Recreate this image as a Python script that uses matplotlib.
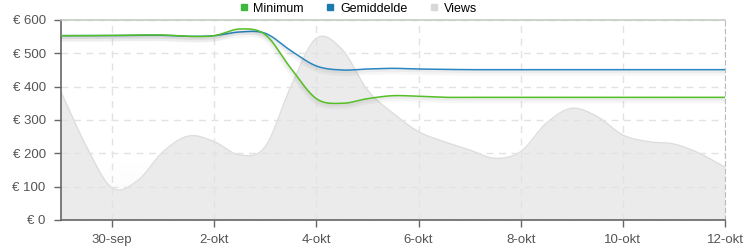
import numpy as np
import matplotlib
matplotlib.use("Agg")
import matplotlib.pyplot as plt
from matplotlib import patheffects as pe
from matplotlib.lines import Line2D

# ---- data (x = days since 29-sep, half-day steps) ----
days = [0, 0.5, 1, 1.5, 2, 2.5, 3, 3.5, 4, 4.5, 5, 5.5, 6, 6.5,
        7, 7.5, 8, 8.5, 9, 9.5, 10, 10.5, 11, 11.5, 12, 12.5, 13]
minimum = [553, 553, 554, 555, 555, 551, 553, 573, 556, 455, 364, 350, 364, 373,
           371, 368, 368, 368, 368, 368, 368, 368, 368, 368, 368, 368, 368]
gemiddelde = [553, 553, 553, 554, 554, 551, 553, 564, 560, 508, 462, 450, 453, 455,
              453, 452, 451, 451, 451, 451, 451, 451, 451, 451, 451, 451, 451]
views = [384, 220, 96, 118, 205, 252, 235, 195, 220, 400, 545, 512, 390, 320,
         265, 235, 210, 185, 205, 290, 335, 310, 255, 235, 228, 200, 158]
tick_pos = [1, 3, 5, 7, 9, 11, 13]
tick_labels = ["30-sep", "2-okt", "4-okt", "6-okt", "8-okt", "10-okt", "12-okt"]
ytick_vals = [0, 100, 200, 300, 400, 500, 600]


def catmull_rom(x, y, n=24):
    x = np.asarray(x, float); y = np.asarray(y, float)
    px = np.concatenate([[2 * x[0] - x[1]], x, [2 * x[-1] - x[-2]]])
    py = np.concatenate([[2 * y[0] - y[1]], y, [2 * y[-1] - y[-2]]])
    xs, ys = [], []
    for i in range(1, len(px) - 2):
        t = np.linspace(0, 1, n, endpoint=False)
        for arr, out in ((px, xs), (py, ys)):
            p0, p1, p2, p3 = arr[i - 1], arr[i], arr[i + 1], arr[i + 2]
            out.append(0.5 * (2 * p1 + (-p0 + p2) * t + (2 * p0 - 5 * p1 + 4 * p2 - p3) * t ** 2
                              + (-p0 + 3 * p1 - 3 * p2 + p3) * t ** 3))
    xs.append([x[-1]]); ys.append([y[-1]])
    return np.concatenate(xs), np.concatenate(ys)


plt.rcParams['font.family'] = ['Liberation Sans', 'DejaVu Sans']
fig = plt.figure(figsize=(7.5, 2.5), dpi=100)
ax = fig.add_axes([61 / 750, 30 / 250, 664 / 750, 200 / 250])

# subtle background gradient at top of plot area
g = np.ones((100, 1))
g[:30, 0] = np.linspace(0.98, 1.0, 30)
ax.imshow(np.dstack([g, g, g]), extent=[0, 13, 600, 0], aspect='auto', zorder=0,
          origin='upper')

vx, vy = catmull_rom(days, views)
ax.fill_between(vx, 0, vy, color='#ebebeb', lw=0, zorder=1)
ax.plot(vx, vy, color='#dddddd', lw=1.0, zorder=1.5)

shadow = [pe.SimpleLineShadow(offset=(0, -2.0), shadow_color='#000000', alpha=0.035, linewidth=4.5),
          pe.SimpleLineShadow(offset=(0, -1.2), shadow_color='#000000', alpha=0.04, linewidth=2.5),
          pe.Normal()]
mx, my = catmull_rom(days, minimum)
gx, gy = catmull_rom(days, gemiddelde)
ax.plot(gx, gy, color='#2a87c2', lw=1.1, zorder=3, path_effects=shadow)
ax.plot(mx, my, color='#55bf26', lw=1.1, zorder=3.5, path_effects=shadow)

ax.set_xlim(0, 13)
ax.set_ylim(0, 600)
ax.set_xticks(tick_pos)
ax.set_xticklabels(tick_labels)
ax.set_yticks(ytick_vals)
ax.set_yticklabels([f"€ {v}" for v in ytick_vals])
ax.grid(True, color='#e2e2e2', linestyle=(0, (5, 4)), lw=1.0)
for gl in ax.get_xgridlines() + ax.get_ygridlines():
    gl.set_zorder(2)

ax.tick_params(axis='both', colors='#666666', labelcolor='#555555', labelsize=9.5,
               length=5, width=1)
ax.tick_params(axis='x', pad=5)
ax.tick_params(axis='y', pad=6)
for s in ('left', 'bottom'):
    ax.spines[s].set_color('#666666')
    ax.spines[s].set_linewidth(1.2)
ax.spines['top'].set_color('#c4ccc4')
ax.spines['top'].set_linewidth(1.2)
ax.spines['right'].set_color('#bbbbbb')
ax.spines['right'].set_linestyle((0, (4, 3)))

handles = [Line2D([], [], marker='s', ls='', color='#3cb83c', markersize=4.5),
           Line2D([], [], marker='s', ls='', color='#1a7ab0', markersize=4.5),
           Line2D([], [], marker='s', ls='', color='#d8d8d8', markersize=4.5)]
fig.legend(handles, ["Minimum", "Gemiddelde", "Views"], loc='center',
           bbox_to_anchor=(0.477, 1 - 8.5 / 250), ncol=3, frameon=False, fontsize=9,
           handletextpad=0.4, columnspacing=1.7, handlelength=0.8, borderpad=0)

fig.savefig("out.png", dpi=100)
